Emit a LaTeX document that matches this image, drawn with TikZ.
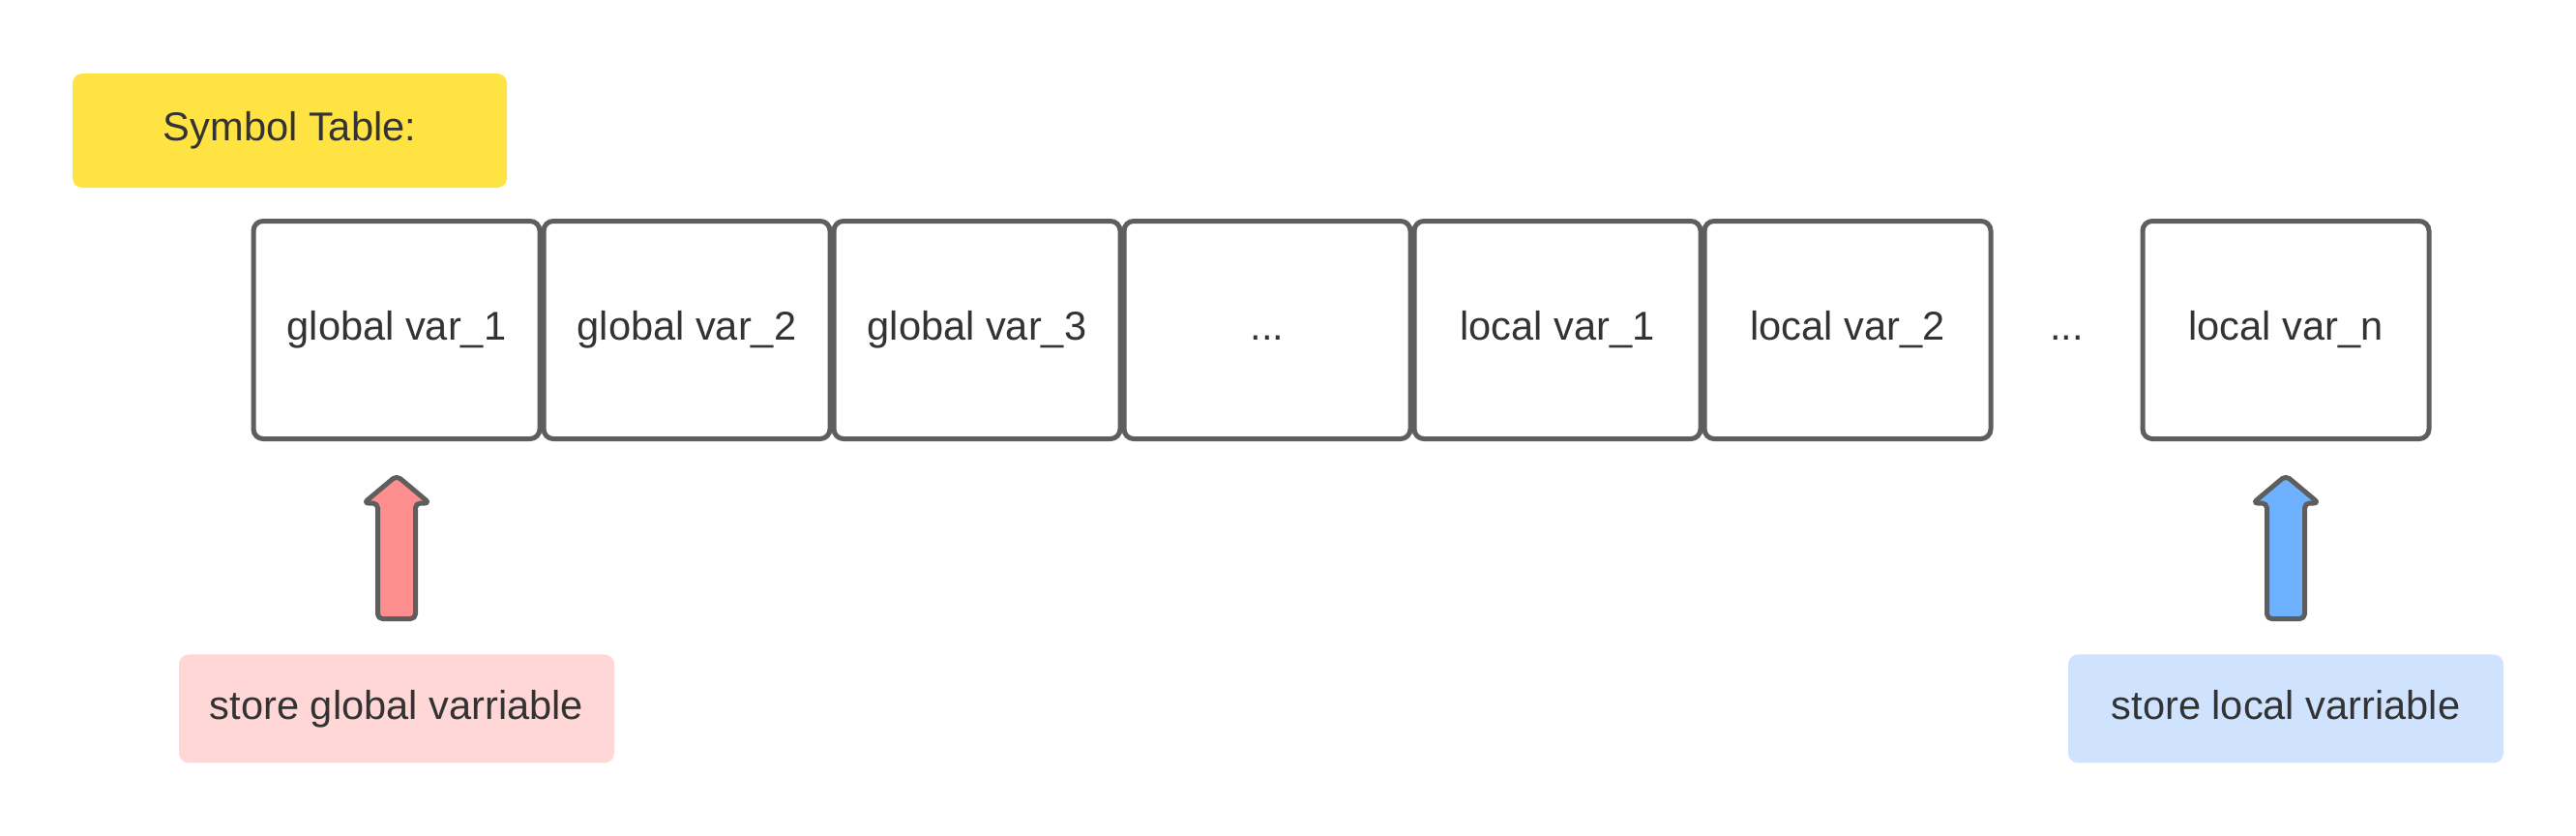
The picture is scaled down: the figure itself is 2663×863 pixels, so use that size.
\documentclass[tikz,border=0pt]{standalone}
\usepackage{fontspec}
\setmainfont{Liberation Sans}
\usetikzlibrary{positioning,calc}
\definecolor{edge}{HTML}{5E5E5E}
\definecolor{txt}{HTML}{333333}
\definecolor{titlebg}{HTML}{FFE342}
\definecolor{globalbg}{HTML}{FFD7D7}
\definecolor{localbg}{HTML}{CFE3FF}
\definecolor{globalarr}{HTML}{FF8F8F}
\definecolor{localarr}{HTML}{6DB1FF}
\tikzset{
	every node/.style={text=txt, font=\fontsize{20.8}{25}\selectfont, text height=15pt, text depth=4.4pt},
	cell/.style={draw=edge, line width=2.5pt, rounded corners=5pt, fill=white, minimum width=148pt, minimum height=112.5pt, inner sep=0pt},
	tag/.style={rounded corners=5pt, minimum width=225pt, minimum height=56pt, inner sep=0pt},
	pics/blockup/.style={code={
		\draw[draw=edge, line width=2.5pt, line join=round, rounded corners=2.5pt, fill=#1]
			(0,-74.5) -- (34,-46) -- (19.5,-46) -- (19.5,73.5) -- (-19.5,73.5) -- (-19.5,-46) -- (-34,-46) -- cycle;
	}}
}
\begin{document}
\begin{tikzpicture}[x=0.5pt,y=-0.5pt]
	\useasboundingbox (0,0) rectangle (2663,863);
	\node[tag, fill=titlebg, minimum width=224.5pt, minimum height=59pt] (title) at (299.5,135) {Symbol Table:};
	\node[cell] (g1) at (410,341) {global var\_1};
	\node[cell, right=-0.5pt of g1] (g2) {global var\_2};
	\node[cell, right=-0.5pt of g2] (g3) {global var\_3};
	\node[cell, right=-0.5pt of g3] (gdots) {...};
	\node[cell, right=-0.5pt of gdots] (l1) {local var\_1};
	\node[cell, right=-0.5pt of l1] (l2) {local var\_2};
	\node[cell, right=76pt of l2] (ln) {local var\_n};
	\node (ldots) at ($(l2.east)!0.5!(ln.west)$) {...};
	% labels under the table
	\node[tag, fill=globalbg, below=110pt of g1] (gstore) {store global varriable};
	\node[tag, fill=localbg, below=110pt of ln] (lstore) {store local varriable};
	\pic at ($(g1.south)!0.5!(gstore.north)$) {blockup=globalarr};
	\pic at ($(ln.south)!0.5!(lstore.north)$) {blockup=localarr};
\end{tikzpicture}
\end{document}
